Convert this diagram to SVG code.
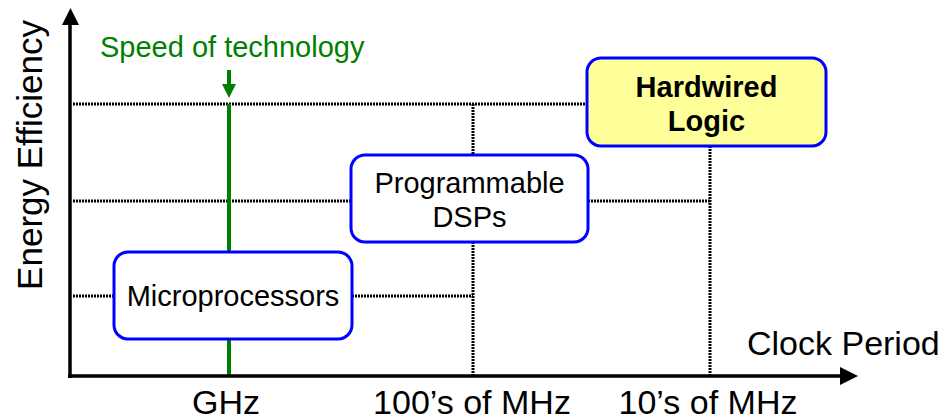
<svg xmlns="http://www.w3.org/2000/svg" width="948" height="420" viewBox="0 0 948 420">
<style>
text{font-family:"Liberation Sans",Arial,sans-serif;fill:#000}
.dot{stroke:#000;stroke-width:3;stroke-dasharray:2 1;fill:none}
.axis{stroke:#000;stroke-width:3.5;fill:none}
.box{stroke:#0000ff;stroke-width:3;fill:#fff}
.lbl{font-size:29px;text-anchor:middle}
.ax{font-size:34px;text-anchor:middle}
</style>
<rect width="948" height="420" fill="#fff"/>
<g id="connectors">
<path class="dot" d="M73 104H587M73 201H351M588 201H710M73 296H114M352 296H473M473 104V155M473 242V375M710 146V375"/>
<path stroke="#008000" stroke-width="4" d="M229 104V375"/>
<path stroke="#008000" stroke-width="4" d="M229 70V86"/>
<path fill="#008000" d="M222 84H236L229 98Z"/>
<path class="axis" d="M70 378V24M68 376H842"/>
<path fill="#000" d="M62 25H79L70.5 8Z"/>
<path fill="#000" d="M840 367V385L858 376Z"/>
</g>
<g id="microprocessors">
<rect class="box" x="114" y="252" width="238" height="87" rx="14"/>
<text class="lbl" x="233" y="306">Microprocessors</text>
</g>
<g id="dsps">
<rect class="box" x="351" y="155" width="237" height="87" rx="14"/>
<text class="lbl" x="469.5" y="193">Programmable</text>
<text class="lbl" x="469.5" y="227">DSPs</text>
</g>
<g id="hardwired">
<rect class="box" x="587" y="58" width="239" height="88" rx="14" style="fill:#ffff99"/>
<text class="lbl" x="706.5" y="97" font-weight="bold">Hardwired</text>
<text class="lbl" x="706.5" y="131" font-weight="bold">Logic</text>
</g>
<g id="labels">
<text x="100" y="57" font-size="29" style="fill:#008000">Speed of technology</text>
<text class="ax" x="0" y="0" transform="translate(42 155) rotate(-90)" style="font-size:35px">Energy Efficiency</text>
<text x="747" y="355" font-size="34">Clock Period</text>
<text class="ax" x="226" y="414">GHz</text>
<text class="ax" x="472" y="414">100’s of MHz</text>
<text class="ax" x="708" y="414">10’s of MHz</text>
</g>
</svg>
